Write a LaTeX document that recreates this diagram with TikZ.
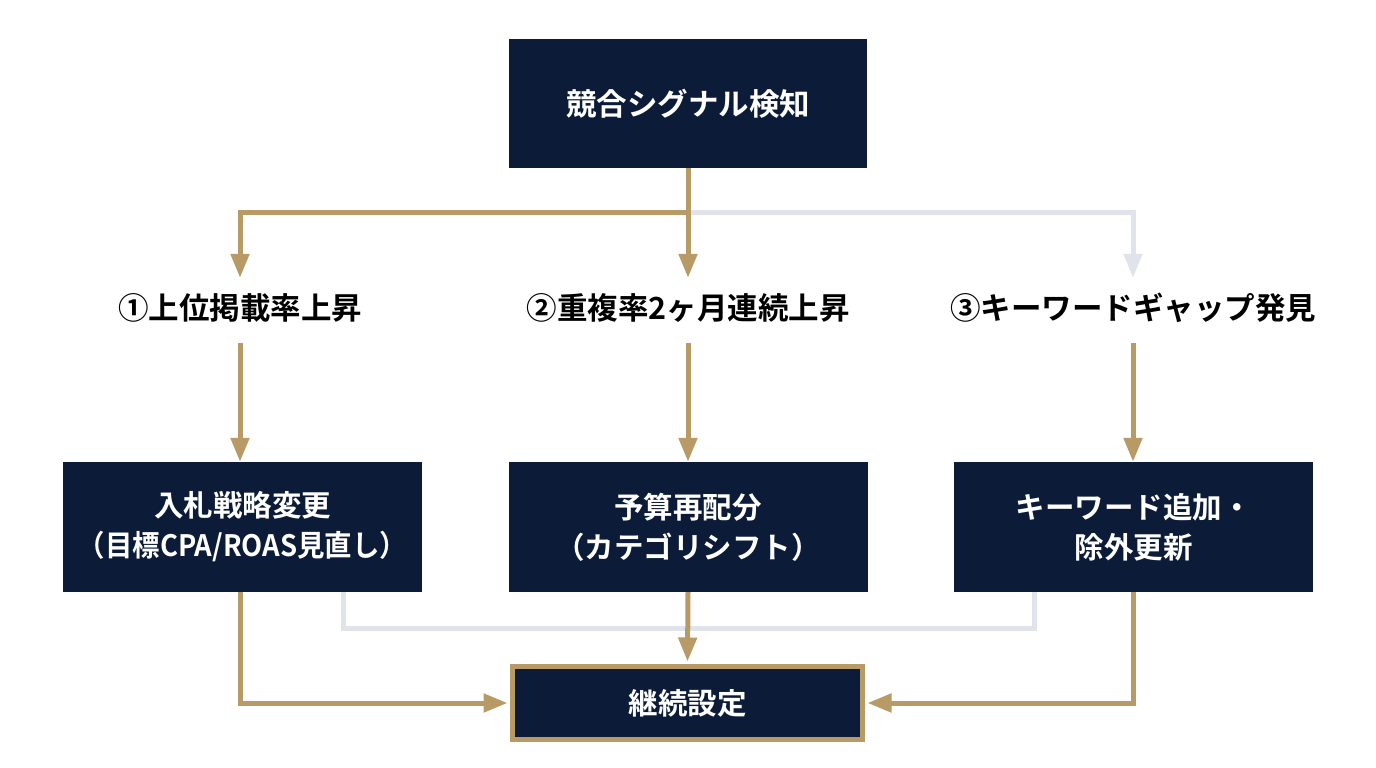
\documentclass[tikz,border=0pt]{standalone}
\usepackage{fontspec}
\usepackage{graphicx}
\setmainfont{Noto Sans CJK JP}[BoldFont={Noto Sans CJK JP Bold}]
\usetikzlibrary{arrows.meta}
\definecolor{navy}{HTML}{0C1C38}
\definecolor{gold}{HTML}{B89A67}
\definecolor{pale}{HTML}{E0E3EA}
\tikzset{
  box/.style={fill=navy, text=white, minimum width=359pt, minimum height=130pt, inner sep=0pt, align=center, font=\fontsize{29.5}{40}\selectfont\bfseries},
  lbl/.style={text=black, minimum height=70pt, inner sep=0pt, font=\fontsize{30.5}{36}\selectfont\bfseries},
  goldline/.style={draw=gold, line width=5pt},
  paleline/.style={draw=pale, line width=5pt},
  tip/.style={-{Triangle[length=24pt,width=18pt]}},
}
\begin{document}
\begin{tikzpicture}[x=1pt,y=-1pt]
\useasboundingbox (0,0) rectangle (1376,768);
\fill[white] (0,0) rectangle (1376,768);
\node[box, minimum width=358pt, minimum height=129pt, font=\fontsize{30.5}{40}\selectfont\bfseries] (top) at (688,103.5) {競合シグナル検知};
\node[lbl] (l1) at (240,308) {①上位掲載率上昇};
\node[lbl] (l2) at (688,308) {②重複率2ヶ月連続上昇};
\node[lbl] (l3) at (1133,308) {③キーワードギャップ発見};
\node[box] (b1) at (242.5,527) {入札戦略変更\\\scalebox{0.93}[1]{（目標CPA/ROAS見直し）}};
\node[box] (b2) at (688,527) {予算再配分\\（カテゴリシフト）};
\node[box] (b3) at (1133.5,527) {キーワード追加・\\除外更新};
\node[box, draw=gold, line width=5pt, minimum width=350pt, minimum height=73pt] (fin) at (687.5,703) {継続設定};
\coordinate (j) at (688,212);
\coordinate (g1) at (343,592);
\coordinate (g2) at (1034,592);
% pale connectors
\draw[paleline, tip] (j) -| ([yshift=-5pt]l3.north);
\draw[paleline, line join=miter] (g1) |- (688,628) -| (g2);
% gold connectors
\draw[goldline] (top.south) -- (j);
\draw[goldline, tip] (j) -| ([yshift=-5pt]l1.north);
\draw[goldline, tip] (j) -- ([yshift=-5pt]l2.north);
\draw[goldline, tip] (l1.south) -- (b1.north -| l1.south);
\draw[goldline, tip] (l2.south) -- (b2.north);
\draw[goldline, tip] (l3.south) -- (b3.north -| l3.south);
\draw[goldline, tip] (b1.south -| l1.south) |- ([xshift=-2.5pt]fin.west);
\draw[goldline, tip] (b2.south) -- ([yshift=2.5pt]fin.north);
\draw[goldline, tip] (b3.south -| l3.south) |- ([xshift=2.5pt]fin.east);
\end{tikzpicture}
\end{document}
